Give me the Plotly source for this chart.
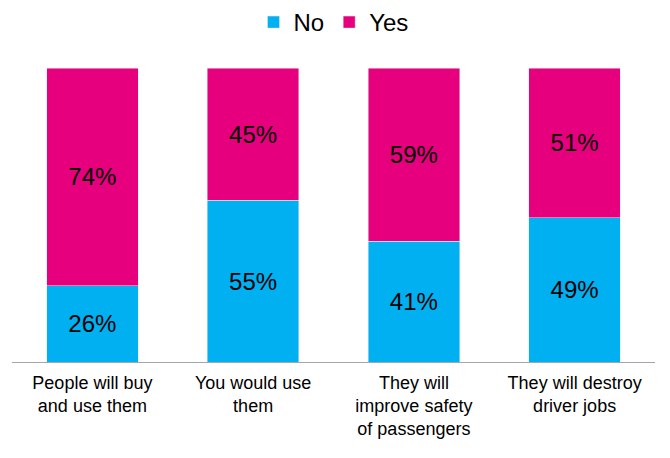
import plotly.graph_objects as go

categories = ["People will buy<br>and use them", "You would use<br>them",
              "They will<br>improve safety<br>of passengers", "They will destroy<br>driver jobs"]
no_vals = [26, 55, 41, 49]
yes_vals = [74, 45, 59, 51]

BLUE = "#00B0F0"
PINK = "#E6007E"
FONT = "Liberation Sans"

fig = go.Figure()
fig.add_trace(go.Bar(x=categories, y=no_vals, name="No", marker_color=BLUE,
                     text=[f"{v}%" for v in no_vals], textposition="inside",
                     insidetextanchor="middle",
                     textfont=dict(size=24, color="black", family=FONT)))
fig.add_trace(go.Bar(x=categories, y=yes_vals, name="Yes", marker_color=PINK,
                     text=[f"{v}%" for v in yes_vals], textposition="inside",
                     insidetextanchor="middle",
                     textfont=dict(size=24, color="black", family=FONT)))

fig.update_layout(
    barmode="stack", bargap=0.43,
    width=670, height=458,
    margin=dict(l=12, r=15, t=68, b=96),
    paper_bgcolor="white", plot_bgcolor="white",
    font=dict(family=FONT, color="black"),
    uniformtext=dict(minsize=10, mode="show"),
    legend=dict(orientation="h", x=0.5, xanchor="center", y=1.0, yanchor="top",
                yref="container", font=dict(size=24, family=FONT),
                itemwidth=30, traceorder="normal"),
    showlegend=True,
)
fig.update_xaxes(showline=True, linecolor="#A6A6A6", linewidth=1, ticks="",
                 ticklabelstandoff=4,
                 tickfont=dict(size=18, family=FONT, color="black"))
fig.update_yaxes(range=[0, 100], visible=False, showgrid=False)

fig.write_html("out.html")
